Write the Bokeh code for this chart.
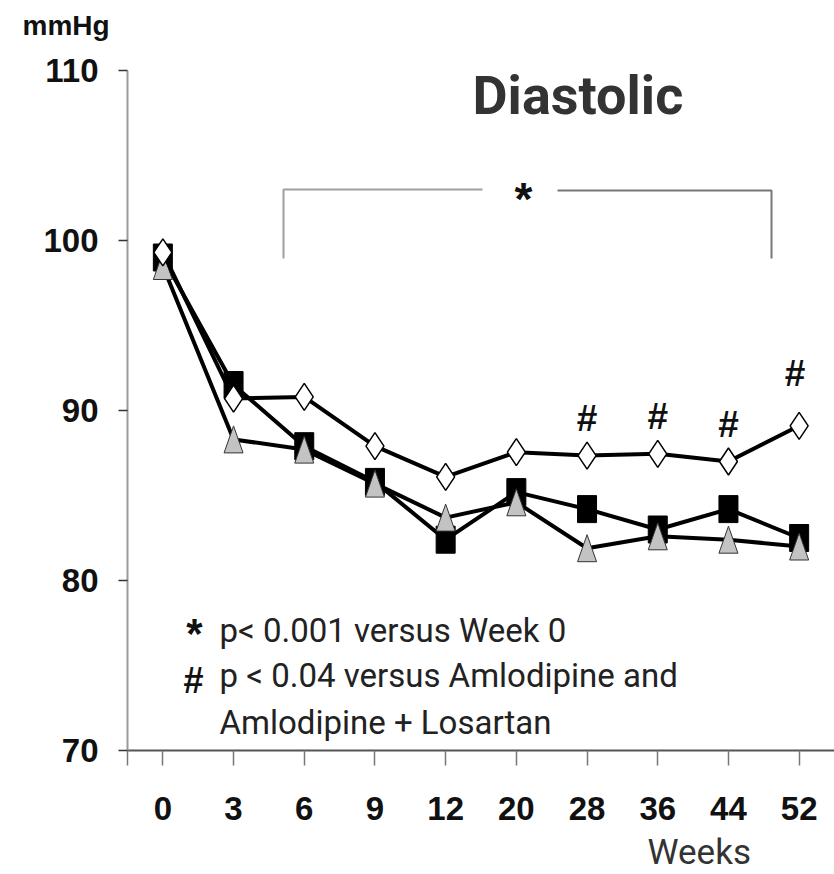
from bokeh.plotting import figure
from bokeh.models import Range1d, FixedTicker, Label, Title
from bokeh.embed import file_html
from bokeh.resources import INLINE

# Diastolic blood pressure (mmHg) by study week
weeks = ["0", "3", "6", "9", "12", "20", "28", "36", "44", "52"]
losartan = [99.3, 90.7, 90.8, 87.9, 86.1, 87.55, 87.35, 87.45, 87.0, 89.1]      # open diamonds
amlodipine = [99.0, 91.5, 87.9, 85.8, 82.4, 85.2, 84.2, 83.0, 84.2, 82.5]       # black squares
amlo_losartan = [98.5, 88.3, 87.7, 85.7, 83.7, 84.6, 81.9, 82.6, 82.4, 82.0]    # grey triangles
y_ticks = [70, 80, 90, 100, 110]
sig_weeks = ["28", "36", "44", "52"]   # "#" markers above the open diamonds

FRAME_W, FRAME_H = 707, 680
LEFT, TOP = 127, 70
x0, x1 = -0.5, len(weeks) - 0.5
y0, y1 = 70, 110
px_x = (x1 - x0) / FRAME_W   # data units per screen pixel
px_y = (y1 - y0) / FRAME_H


def sx(px):
    return x0 + (px - LEFT) * px_x


def sy(py):
    return y1 - (py - TOP) * px_y


idx = list(range(len(weeks)))

p = figure(frame_width=FRAME_W, frame_height=FRAME_H,
           x_range=Range1d(x0, x1), y_range=Range1d(y0, y1),
           output_backend="svg", toolbar_location=None,
           min_border_left=LEFT, min_border_right=0,
           min_border_top=TOP, min_border_bottom=0)
p.outline_line_color = None
p.xgrid.visible = False
p.ygrid.visible = False
p.background_fill_color = "white"
p.border_fill_color = "white"

# y axis
yax = p.yaxis[0]
yax.ticker = FixedTicker(ticks=y_ticks)
yax.axis_line_color = "#9a9a9a"
yax.axis_line_width = 2
yax.major_tick_line_color = "#333333"
yax.major_tick_line_width = 1.5
yax.major_tick_out = 9
yax.major_tick_in = 0
yax.minor_tick_line_color = None
yax.major_label_standoff = 20
yax.major_label_text_font = "Liberation Sans"
yax.major_label_text_font_style = "bold"
yax.major_label_text_font_size = "33px"
yax.major_label_text_color = "#111111"

# x axis
xax = p.xaxis[0]
xax.ticker = FixedTicker(ticks=[-0.5] + idx)
overrides = {i: w for i, w in enumerate(weeks)}
overrides[-0.5] = ""
xax.major_label_overrides = overrides
xax.axis_line_color = "#555555"
xax.axis_line_width = 2
xax.major_tick_line_color = "#777777"
xax.major_tick_line_width = 1.5
xax.major_tick_out = 15
xax.major_tick_in = 0
xax.minor_tick_line_color = None
xax.major_label_standoff = 31
xax.major_label_text_font = "Liberation Sans"
xax.major_label_text_font_style = "bold"
xax.major_label_text_font_size = "33px"
xax.major_label_text_color = "#111111"

# significance bracket (weeks 6-52 vs week 0)
p.line([sx(283), sx(283), sx(482)], [sy(258), sy(189), sy(189)],
       line_color="#9f9f9f", line_width=2)
p.line([sx(557), sx(771), sx(771)], [sy(190), sy(190), sy(258)],
       line_color="#777777", line_width=2)
p.add_layout(Label(x=sx(523), y=sy(198), text="*", text_align="center",
                   text_baseline="middle", text_font="Liberation Sans",
                   text_font_style="bold", text_font_size="46px",
                   text_color="#111111"))

# Amlodipine: black squares
p.line(idx, amlodipine, line_color="black", line_width=4)
p.rect(idx, amlodipine, width=19, height=27, width_units="screen",
       height_units="screen", fill_color="black", line_color="black")

# Amlodipine + Losartan: grey triangles (narrow, tall)
tri_w, tri_h = 9.5 * px_x, 13.5 * px_y
tri_xs = [[i - tri_w, i + tri_w, i] for i in idx]
tri_ys = [[v - tri_h, v - tri_h, v + tri_h] for v in amlo_losartan]
p.line(idx, amlo_losartan, line_color="black", line_width=4)
p.patches(tri_xs, tri_ys, fill_color="#c3c3c3", line_color="#333333",
          line_width=1)

# Losartan: open diamonds
p.line(idx, losartan, line_color="black", line_width=4)
p.scatter(idx, losartan, marker="diamond", size=27, fill_color="white",
          line_color="black", line_width=1.5)

# "#" above the diamonds
for w in sig_weeks:
    i = weeks.index(w)
    off = 52 if w == "52" else 37
    p.add_layout(Label(x=i, y=losartan[i], y_offset=off, x_offset=-4 if w == "52" else 0,
                       text="#", text_align="center", text_baseline="middle",
                       text_font="Liberation Sans", text_font_style="bold",
                       text_font_size="37px", text_color="#111111"))

# footnotes
p.add_layout(Label(x=sx(194), y=sy(633), text="*", text_align="center",
                   text_baseline="middle", text_font="Liberation Sans",
                   text_font_style="bold", text_font_size="42px",
                   text_color="#111111"))
p.add_layout(Label(x=sx(193), y=sy(680), text="#", text_align="center",
                   text_baseline="middle", text_font="Liberation Sans",
                   text_font_style="bold", text_font_size="36px",
                   text_color="#111111"))
for txt, base in [("p< 0.001 versus Week 0", 630),
                  ("p < 0.04 versus Amlodipine and", 675),
                  ("Amlodipine + Losartan", 722)]:
    p.add_layout(Label(x=sx(219), y=sy(base), text=txt, text_align="left",
                       text_baseline="alphabetic", text_font="Roboto",
                       text_font_size="33px", text_color="#222222"))

# panel title inside the plot area
p.add_layout(Label(x=sx(472), y=sy(95), text="Diastolic", text_align="left",
                   text_baseline="alphabetic", text_font="Roboto",
                   text_font_style="bold", text_font_size="54px",
                   text_color="#333333"))

# unit caption above the y axis: a blank spacer band next to the frame,
# then the caption itself further out
p.add_layout(Title(text=" ", align="left", standoff=6,
                   text_font_size="20px"), "above")
p.add_layout(Title(text="mmHg", align="left", offset=-105, standoff=0,
                   text_font="Liberation Sans", text_font_style="bold",
                   text_font_size="28px", text_color="#111111"), "above")

# time caption under the x axis
p.add_layout(Title(text="Weeks", align="left", offset=520, standoff=14,
                   text_font="Roboto", text_font_style="normal",
                   text_font_size="35px", text_color="#333333"), "below")

open("out.html", "w").write(file_html(p, INLINE))
